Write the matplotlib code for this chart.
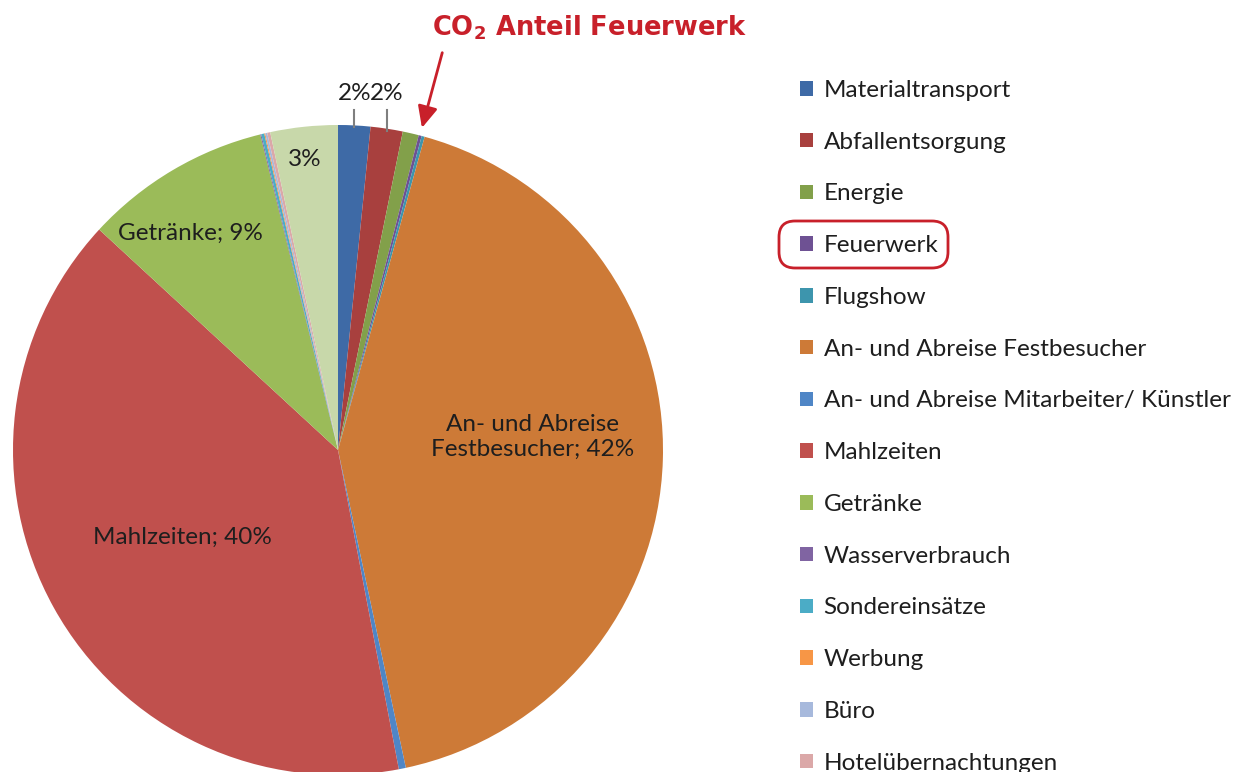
import numpy as np
import matplotlib
matplotlib.use("Agg")
import matplotlib.pyplot as plt
from matplotlib.patches import FancyBboxPatch, Patch

# ---- data ----
categories = ["Materialtransport", "Abfallentsorgung", "Energie", "Feuerwerk", "Flugshow",
              "An- und Abreise Festbesucher", "An- und Abreise Mitarbeiter/ Künstler",
              "Mahlzeiten", "Getränke", "Wasserverbrauch", "Sondereinsätze", "Werbung",
              "Büro", "Hotelübernachtungen", "Sonstiges"]
shares = [1.6, 1.6, 0.8, 0.15, 0.15, 42.4, 0.35, 39.9, 9.3, 0.05, 0.15, 0.05, 0.1, 0.15, 3.35]
colors = ["#3E6AA6", "#A8403E", "#82A04A", "#6E5193", "#3D95AD", "#CD7A37", "#4F86C6",
          "#C0504D", "#9BBB59", "#8064A2", "#4BACC6", "#F79646", "#A7B9DC", "#DBA8A8", "#C8D8AA"]
inside_labels = {5: "An- und Abreise\nFestbesucher; 42%", 7: "Mahlzeiten; 40%",
                 8: "Getränke; 9%", 14: "3%"}
outside_labels = {0: "2%", 1: "2%"}
legend_count = 14
highlight = "Feuerwerk"
title_text = r"CO$_\mathregular{2}$ Anteil Feuerwerk"

W, H = 1245, 772
fig = plt.figure(figsize=(W / 100, H / 100), dpi=100)
ax = fig.add_axes([0, 0, 1, 1])
cx, cy, R = 338, H - 450, 325

wedges, _ = ax.pie(shares, colors=colors, startangle=90, counterclock=False,
                   center=(cx, cy), radius=R, frame=True,
                   wedgeprops=dict(linewidth=0))
ax.set_xlim(0, W)
ax.set_ylim(0, H)
ax.set_aspect("equal")
ax.axis("off")

font = "Lato"
txt_color = "#1e1e1e"
fs = 17.5

def mid_angle(w):
    return np.deg2rad((w.theta1 + w.theta2) / 2)

# inside labels
label_pos = {5: (533, 437), 7: (182, 537), 8: (190, 233), 14: (305, 160)}
for i, s in inside_labels.items():
    x, y = label_pos[i]
    ax.text(x, H - y, s, ha="center", va="center", fontsize=fs, family=font,
            color=txt_color, linespacing=1.2)

# outside labels with vertical leader lines
for i, s in outside_labels.items():
    a = mid_angle(wedges[i])
    x = cx + R * np.cos(a)
    y = cy + R * np.sin(a)
    ax.plot([x, x], [y - 2, H - 110], color="#7f7f7f", lw=1.5)
    ax.text(x, H - 93, s, ha="center", va="center", fontsize=fs, family=font,
            color=txt_color)

# legend
handles = [Patch(facecolor=colors[i], edgecolor="none") for i in range(legend_count)]
leg = ax.legend(handles, categories[:legend_count], loc="upper left",
                bbox_to_anchor=(800 / W, 1 - 80 / H), bbox_transform=fig.transFigure,
                frameon=False, prop=dict(family=font, size=fs),
                handlelength=0.55, handleheight=0.55, handletextpad=0.42,
                labelspacing=1.265, borderpad=0, borderaxespad=0)
for t in leg.get_texts():
    t.set_color(txt_color)

# title and arrow
red = "#C8202A"
ax.text(432, H - 28, title_text, ha="left", va="center", fontsize=18.5,
        fontweight="bold", family="DejaVu Sans", color=red)
k = categories.index(highlight)
a = mid_angle(wedges[k])
tip = (cx + R * np.cos(a) + 1, cy + R * np.sin(a) + 5)
ax.annotate("", xy=tip, xytext=(443, H - 50),
            arrowprops=dict(arrowstyle="-|>,head_length=1.3,head_width=0.6",
                            color=red, lw=2))

# red rounded box around the highlighted legend entry
box = FancyBboxPatch((779, H - 268), 169, 47, boxstyle="round,pad=0,rounding_size=16",
                     fill=False, edgecolor=red, lw=2)
ax.add_patch(box)

fig.savefig("out.png", dpi=100)
